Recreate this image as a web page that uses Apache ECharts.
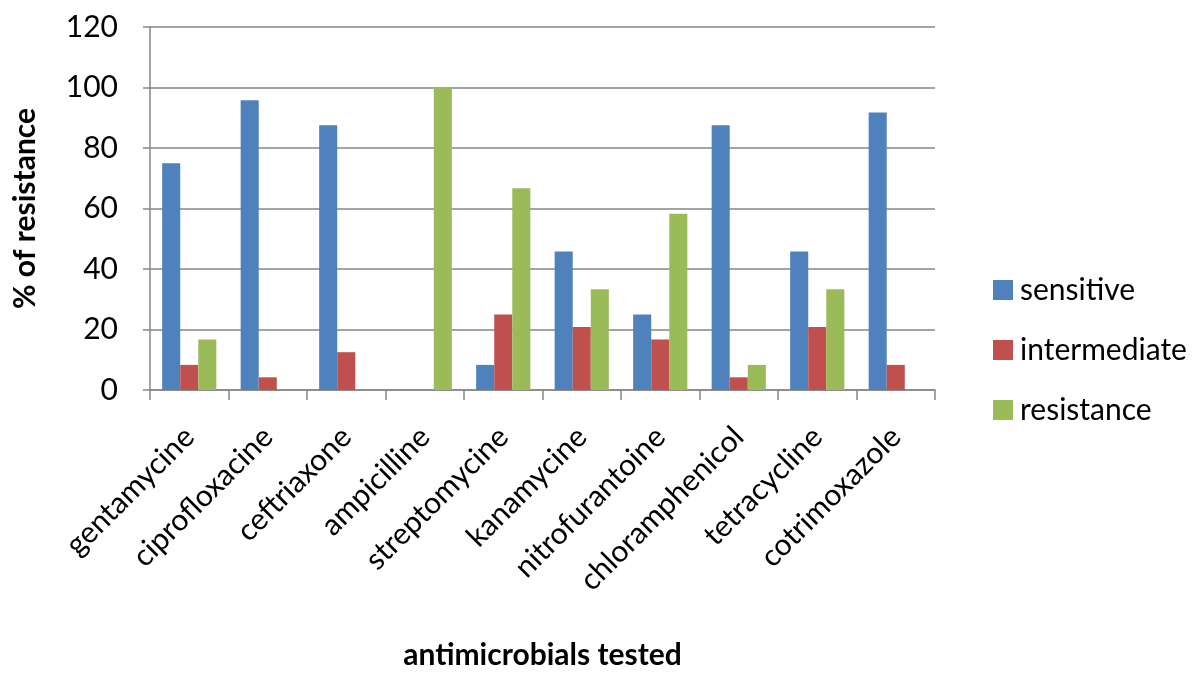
<!DOCTYPE html>
<html><head><meta charset="utf-8">
<script src="https://cdn.jsdelivr.net/npm/echarts@6/dist/echarts.min.js"></script>
<style>html,body{margin:0;padding:0;background:#fff}#c{width:1200px;height:677px}</style>
</head><body><div id="c"></div>
<script>
const categories = ["gentamycine","ciprofloxacine","ceftriaxone","ampicilline","streptomycine","kanamycine","nitrofurantoine","chloramphenicol","tetracycline","cotrimoxazole"];
const sensitive = [75, 95.8, 87.5, 0, 8.3, 45.8, 25, 87.5, 45.8, 91.7];
const intermediate = [8.3, 4.2, 12.5, 0, 25, 20.8, 16.7, 4.2, 20.8, 8.3];
const resistance = [16.7, 0, 0, 100, 66.7, 33.3, 58.3, 8.3, 33.3, 0];
const seriesNames = ["sensitive","intermediate","resistance"];
const colors = ["#4F81BD","#C0504D","#9BBB59"];
const font = "Lato, 'Open Sans', sans-serif";

const chart = echarts.init(document.getElementById('c'), null, {renderer:'canvas'});
const data = [sensitive, intermediate, resistance];
chart.setOption({
  animation:false,
  color: colors,
  textStyle:{fontFamily:font},
  grid:{left:150, right:265, top:27, bottom:287, containLabel:false, outerBoundsMode:'none'},
  legend:{
    orient:'vertical', left:988, top:270, itemWidth:20, itemHeight:20, itemGap:30,
    icon:'rect',
    textStyle:{fontSize:30, color:'#000', fontFamily:font, padding:[0,0,0,2]},
    data: seriesNames
  },
  xAxis:{
    type:'category', data:categories,
    name:'antimicrobials tested', nameLocation:'middle', nameGap:250,
    nameTextStyle:{fontSize:30, fontWeight:'bold', color:'#000', fontFamily:font},
    axisLine:{lineStyle:{color:'#868686', width:1.5}},
    axisTick:{show:true, alignWithLabel:false, length:10, lineStyle:{color:'#868686', width:1.5}},
    axisLabel:{rotate:45, fontSize:30, color:'#000', margin:42, interval:0, fontFamily:font}
  },
  yAxis:{
    type:'value', min:0, max:120, interval:20,
    name:'% of resistance', nameLocation:'middle', nameGap:110, nameRotate:90,
    nameTextStyle:{fontSize:30, fontWeight:'bold', color:'#000', fontFamily:font},
    axisLine:{show:true, lineStyle:{color:'#868686', width:1.5}},
    axisTick:{show:true, inside:false, length:7, lineStyle:{color:'#868686', width:1.5}},
    axisLabel:{fontSize:30, color:'#000', margin:32, fontFamily:font},
    splitLine:{lineStyle:{color:'#868686', width:1.5}}
  },
  series: seriesNames.map((n,i)=>({
    name:n, type:'bar', data:data[i], barGap:'0%', barCategoryGap:'31%'
  }))
});
</script></body></html>
